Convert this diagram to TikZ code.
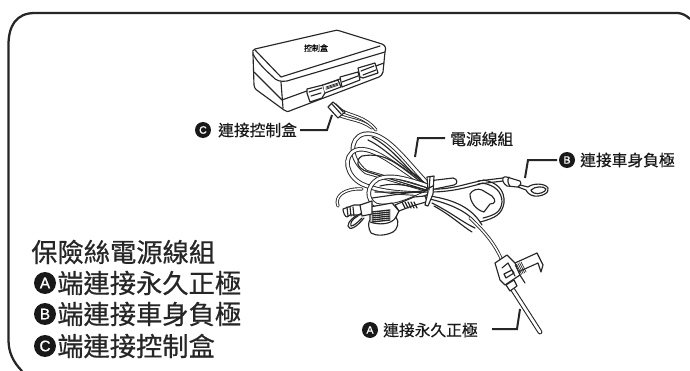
\documentclass[tikz,border=0pt]{standalone}
\usepackage{fontspec}
\setmainfont{Noto Sans CJK TC}[FakeBold=0.5]
\newfontfamily\latinb{Liberation Sans}[FakeBold=1]
\tikzset{
 ln/.style={line width=0.85pt,line join=round,line cap=round},
 lead/.style={line width=1.5pt,draw=black!85},
 wire/.style={ln,draw=black!85},
 body/.style={ln,fill=white,draw=black!85},
 lab/.style={inner sep=0pt,anchor=west,font=\fontsize{11.8pt}{13pt}\selectfont,text=black!90},
 bigt/.style={inner sep=0pt,anchor=west,font=\fontsize{19.7pt}{22pt}\selectfont,text=black!85},
 badgesm/.style={circle,fill=black!90,text=white,inner sep=0pt,minimum size=12pt,font=\latinb\fontsize{8pt}{9pt}\selectfont},
 badgelg/.style={circle,fill=black!90,text=white,inner sep=0pt,minimum size=16.5pt,font=\latinb\fontsize{11.5pt}{12pt}\selectfont},
}
\newcommand{\cbl}[1]{\draw[black!85,line width=3.4pt,line cap=round] #1; \draw[white,line width=2pt,line cap=round] #1;}
\newcommand{\thn}[1]{\draw[black!85,line width=2.4pt,line cap=round] #1; \draw[white,line width=1.1pt,line cap=round] #1;}
\begin{document}
\begin{tikzpicture}[x=0.75pt,y=-0.75pt]
\useasboundingbox (0,0) rectangle (690,371);
\fill[white] (0,0) rectangle (690,371);
% frame
\draw[line width=1.7pt,draw=black!85] (22,371) .. controls (13,362) and (8.5,352) .. (8.5,340) -- (8.5,45) .. controls (8.5,26) and (16,13) .. (35,13) -- (678,13) .. controls (682,13.5) and (686,15) .. (690,19);
% control box
\draw[body] (253,54) .. controls (252,51) and (253,50) .. (255,49) -- (333,31) .. controls (336,30) and (338,30) .. (340,31) -- (382,44) .. controls (386,46) and (386,48) .. (385,52) -- (383,72) .. controls (382,75) and (381,76) .. (379,77) -- (292,110) .. controls (288,112) and (286,112) .. (284,110) -- (258,91) .. controls (255,89) and (254,87) .. (254,85) -- cycle;
\draw[wire] (253,54) .. controls (256,60) and (262,67) .. (272,76) .. controls (276,81) and (281,82) .. (287,81) -- (385,52);
\draw[wire] (255,50) -- (281,77) -- (380,46);
\draw[wire] (281,82) -- (283,108);
\draw[wire] (254,72) -- (282,100) -- (384,63);
% ports
\draw[body] (307,89) -- (323,85) -- (325,93) -- (322,98) -- (310,102) -- (307,93) -- cycle;
\draw[wire] (309,92) -- (322,88) (311,96) -- (321,93);
\draw[body] (323,85) -- (338,80) -- (341,87) -- (325,93);
\foreach \d in {0,2.5,5} \draw[wire,line width=.5pt] (326,87+\d*.45) -- (338,83+\d*.45);
\draw[body] (340,77) -- (358,72) -- (360,80) -- (342,87) -- cycle;
\draw[wire] (342,82) -- (358,76);
\draw[body] (358,68) -- (375,63) -- (378,73) -- (363,78) -- (360,77) -- cycle;
\draw[wire] (361,71) -- (374,66) (363,75) -- (376,70);
\node[inner sep=0pt,font=\fontsize{6pt}{7pt}\selectfont] (boxlabel) at (316,48) {控制盒};
% connector C
\thn{(338,115) .. controls (350,120) and (362,120) .. (372,128)}
\thn{(342,111) .. controls (352,116) and (366,117) .. (376,130)}
\draw[body] (328,107) -- (333,102) -- (345,112) -- (338,118) -- cycle;
\draw[wire] (332,104) -- (341,114) (336,104) -- (343,112);
% loops
\cbl{(428,184) .. controls (405,160) and (385,130) .. (364,134) .. controls (348,138) and (350,160) .. (366,172) -- (428,190)}
\cbl{(428,187) .. controls (395,165) and (372,145) .. (356,150) .. controls (342,156) and (346,176) .. (362,184) .. controls (380,192) and (400,193) .. (428,194)}
\draw[wire] (426,186) .. controls (395,162) and (385,152) .. (362,156) .. controls (355,160) and (356,168) .. (368,172) -- (426,190);
\draw[wire] (420,178) .. controls (400,165) and (385,148) .. (368,140);
\draw[wire] (424,183) .. controls (405,168) and (395,150) .. (372,137);
\cbl{(428,186) .. controls (405,178) and (390,174) .. (378,179) .. controls (366,186) and (366,200) .. (376,205) .. controls (392,209) and (410,200) .. (428,192)}
\draw[wire] (372,198) -- (428,190);
\draw[wire] (380,186) .. controls (395,182) and (410,186) .. (426,190);
\draw[wire] (375,192) .. controls (395,192) and (410,193) .. (428,192);
% right bundle
\draw[wire] (430,192) .. controls (450,192) and (465,188) .. (480,184);
\draw[wire] (430,189) .. controls (450,190) and (465,184) .. (480,181);
\draw[wire] (430,196) .. controls (455,200) and (472,208) .. (482,225);
\draw[wire] (430,199) .. controls (450,204) and (470,212) .. (478,226);
\draw[wire] (432,203) .. controls (452,213) and (462,222) .. (475,228);
\draw[wire] (434,206) .. controls (452,216) and (462,226) .. (472,232);
% sheathed pieces
\draw[body] (428,181) -- (453,178) .. controls (458,179) and (458,184) .. (454,185) -- (430,190) -- cycle;
\draw[wire] (482,183) .. controls (495,185) and (502,192) .. (502,202) .. controls (501,212) and (495,215) .. (483,218);
\draw[wire] (483,180) .. controls (497,182) and (505,190) .. (504,203) .. controls (502,214) and (496,218) .. (480,222);
\draw[body] (482,190) -- (492,196) .. controls (496,200) and (496,204) .. (490,204) -- (484,212) .. controls (476,210) and (470,202) .. (470,194) .. controls (472,190) and (478,188) .. (482,190);
% terminal B
\draw[wire] (478,184) -- (503,181) (478,181) -- (503,178);
\draw[body] (503,178) .. controls (504,176) and (508,177) .. (510,178) -- (520,181) .. controls (522,183) and (520,188) .. (517,187) -- (507,186) .. controls (504,184) and (502,181) .. (503,178);
\draw[wire] (509,177) .. controls (507,180) and (508,184) .. (510,186);
\draw[body] (520,185) -- (528,187) .. controls (533,183) and (545,183) .. (548,188) .. controls (550,193) and (541,197) .. (534,196) .. controls (529,195) and (527,192) .. (526,190) -- (518,187) -- cycle;
\draw[wire] (531,190) .. controls (535,186) and (544,186) .. (546,189) .. controls (546,192) and (538,195) .. (534,193) .. controls (532,192) and (531,191) .. (531,190);
% bottom-left connectors
\thn{(338,206) .. controls (334,196) and (345,188) .. (362,189)}
\draw[body] (343,209) -- (354,205) -- (361,205) -- (364,210) -- (360,215) -- (350,215) -- (347,217) .. controls (345,217) and (343,212) .. (343,209);
\foreach \x in {347,350,353} \draw[wire] (\x,207) -- (\x+1,216);
\draw[wire] (363,213) .. controls (354,216) and (348,221) .. (348,226) .. controls (349,231) and (356,228) .. (364,218);
\draw[wire] (358,216) .. controls (352,219) and (350,223) .. (351,226) .. controls (354,226) and (358,222) .. (362,218);
\draw[body] (370,207) -- (392,203) -- (399,211) -- (396,217) .. controls (400,222) and (397,230) .. (393,232) .. controls (385,236) and (376,236) .. (371,233) .. controls (368,228) and (368,222) .. (370,220) -- cycle;
\draw[wire] (370,222) .. controls (378,225) and (392,225) .. (396,217);
\foreach \y in {212,214,216,218,220,222} \draw[wire,line width=1pt] (372,\y) -- (390,\y-2);
\draw[body] (360,205) -- (372,201) -- (372,214) -- (362,216) -- cycle;
\draw[body] (395,205) -- (414,197) -- (425,196) -- (427,201) -- (426,202) -- (412,206) -- (399,211) -- cycle;
\foreach \x in {402,405,408,411,414} \draw[wire] (\x,202) -- (\x+3,208);
% tie
\draw[body] (427,177) -- (434,176) -- (433,194) -- (428,206) -- (425,205) -- (428,192) -- cycle;
\draw[wire] (430,177) -- (429,190);
\draw[wire] (425,190) -- (433,186);
% A cable
\thn{(470,218) .. controls (485,232) and (496,245) .. (503,263)}
% holder A
\draw[black!85,line width=3.6pt,line cap=round] (513,290) -- (540,332);
\draw[white,line width=2pt,line cap=round] (513,290) -- (540,332);
\draw[body] (515,263) -- (537,253) -- (543,265) -- (541,272) -- (538,263) -- (518,272) -- cycle;
\draw[wire] (518,272) -- (525,283);
\draw[body] (495,263) -- (507,255) -- (515,263) -- (520,275) -- (505,285) -- (500,280) -- cycle;
\draw[wire] (502,268) -- (508,263) -- (515,276);
\draw[wire] (504,274) -- (512,270) -- (514,273) -- (506,278) -- cycle;
\draw[body] (506,285) -- (514,280) -- (517,286) -- (510,291) -- cycle;
\foreach \d in {0,1.5,3,4.5,6} \draw[wire,line width=.5pt] (515+\d,265-\d*.5) -- (520+\d,275-\d*.5);
% leaders
\draw[lead] (300,130) -- (327,130) -- (332,115);
\draw[lead] (415,157) -- (418,138) -- (445,138);
\draw[lead] (525,178) -- (528,160) -- (557,160);
\draw[lead] (492,329) -- (517,329) -- (520,309);
% labels
\node[badgesm] (bc) at (203,130) {C};
\node[lab] (tc) at (218,130) {連接控制盒};
\node[lab] (tp) at (450,139) {電源線組};
\node[badgesm] (bb) at (567,160) {B};
\node[lab] (tb) at (580,160) {連接車身負極};
\node[badgesm] (ba) at (370,330) {A};
\node[lab] (ta) at (383,330) {連接永久正極};
% big text
\node[bigt] (l1) at (31,252) {保險絲電源線組};
\node[badgelg] (a1) at (45,283) {A};
\node[bigt] (l2) at (57,283) {端連接永久正極};
\node[badgelg] (a2) at (45,314) {B};
\node[bigt] (l3) at (57,314) {端連接車身負極};
\node[badgelg] (a3) at (45,346) {C};
\node[bigt] (l4) at (57,346) {端連接控制盒};
\end{tikzpicture}
\end{document}
